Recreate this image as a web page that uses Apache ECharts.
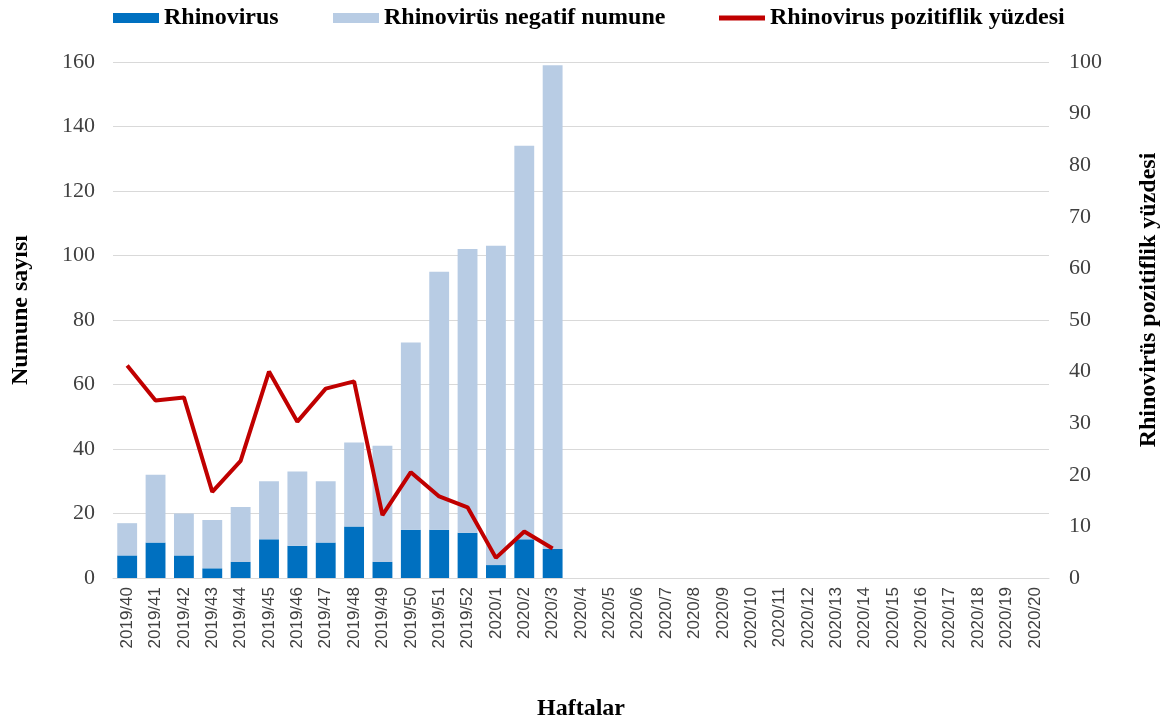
<!DOCTYPE html>
<html>
<head>
<meta charset="utf-8">
<script src="https://cdn.jsdelivr.net/npm/echarts@6/dist/echarts.min.js"></script>
<style>
  html, body { margin: 0; padding: 0; background: #fff; }
  #chart { width: 1169px; height: 726px; }
</style>
</head>
<body>
<div id="chart"></div>
<script>
// weeks 2019/40 .. 2020/20
var weeks = ['2019/40', '2019/41', '2019/42', '2019/43', '2019/44', '2019/45', '2019/46', '2019/47',
    '2019/48', '2019/49', '2019/50', '2019/51', '2019/52', '2020/1', '2020/2', '2020/3', '2020/4',
    '2020/5', '2020/6', '2020/7', '2020/8', '2020/9', '2020/10', '2020/11', '2020/12', '2020/13',
    '2020/14', '2020/15', '2020/16', '2020/17', '2020/18', '2020/19', '2020/20'];

// positive samples
var positive = [7, 11, 7, 3, 5, 12, 10, 11, 16, 5, 15, 15, 14, 4, 12, 9];
// negative samples (stacked on top)
var negative = [10, 21, 13, 15, 17, 18, 23, 19, 26, 36, 58, 80, 88, 99, 122, 150];
// positivity percentage
var percent = [41.2, 34.4, 35, 16.7, 22.7, 40, 30.3, 36.7, 38.1, 12.2, 20.5, 15.8, 13.7, 3.9, 9, 5.7];

var leftTicks = {min: 0, max: 160, interval: 20};
var rightTicks = {min: 0, max: 100, interval: 10};

var serif = '"Liberation Serif", "Times New Roman", serif';
var boldText = {fontFamily: serif, fontWeight: 'bold', fontSize: 24, color: '#000'};

var chart = echarts.init(document.getElementById('chart'));

function legendAt(name, left, icon) {
    var item = {name: name};
    if (icon) item.icon = icon;
    return {
        top: 1,
        left: left,
        itemWidth: 46,
        itemHeight: 10,
        textStyle: boldText,
        data: [item]
    };
}

var option = {
    animation: false,
    legend: [
        legendAt('Rhinovirus', 108, 'rect'),
        legendAt('Rhinovirüs negatif numune', 328, 'rect'),
        legendAt('Rhinovirus pozitiflik yüzdesi', 714, 'path://M0,0 L46,0 L46,5 L0,5 Z')
    ],
    grid: {
        left: 113,
        right: 116,
        top: 62,
        bottom: 147
    },
    xAxis: {
        type: 'category',
        data: weeks,
        name: 'Haftalar',
        nameLocation: 'middle',
        nameGap: 119,
        nameTextStyle: boldText,
        axisLine: {lineStyle: {color: '#d9d9d9', width: 1}},
        axisTick: {show: false},
        axisLabel: {
            rotate: 90,
            interval: 0,
            margin: 9,
            fontFamily: '"Liberation Sans", Arial, sans-serif',
            fontSize: 17,
            color: '#404040'
        }
    },
    yAxis: [
        {
            type: 'value',
            min: leftTicks.min,
            max: leftTicks.max,
            interval: leftTicks.interval,
            name: 'Numune sayısı',
            nameLocation: 'middle',
            nameRotate: 90,
            nameGap: 80,
            nameTextStyle: Object.assign({padding: [0, 0, 0, 20]}, boldText),
            axisLine: {show: false},
            axisTick: {show: false},
            axisLabel: {
                margin: 18,
                fontFamily: serif,
                fontSize: 22,
                color: '#404040'
            },
            splitLine: {lineStyle: {color: '#d9d9d9', width: 1}}
        },
        {
            type: 'value',
            min: rightTicks.min,
            max: rightTicks.max,
            interval: rightTicks.interval,
            name: 'Rhinovirüs pozitiflik yüzdesi',
            nameLocation: 'middle',
            nameRotate: 90,
            nameGap: 88,
            nameTextStyle: Object.assign({padding: [0, 0, 0, 40]}, boldText),
            axisLine: {show: false},
            axisTick: {show: false},
            axisLabel: {
                margin: 20,
                fontFamily: serif,
                fontSize: 22,
                color: '#404040'
            },
            splitLine: {show: false}
        }
    ],
    series: [
        {
            name: 'Rhinovirus',
            type: 'bar',
            stack: 'total',
            barCategoryGap: '30%',
            itemStyle: {color: '#0070c0'},
            data: positive
        },
        {
            name: 'Rhinovirüs negatif numune',
            type: 'bar',
            stack: 'total',
            barCategoryGap: '30%',
            itemStyle: {color: '#b8cce4'},
            data: negative
        },
        {
            name: 'Rhinovirus pozitiflik yüzdesi',
            type: 'line',
            yAxisIndex: 1,
            symbol: 'none',
            lineStyle: {color: '#c00000', width: 4},
            itemStyle: {color: '#c00000'},
            data: percent
        }
    ]
};

chart.setOption(option);
</script>
</body>
</html>
